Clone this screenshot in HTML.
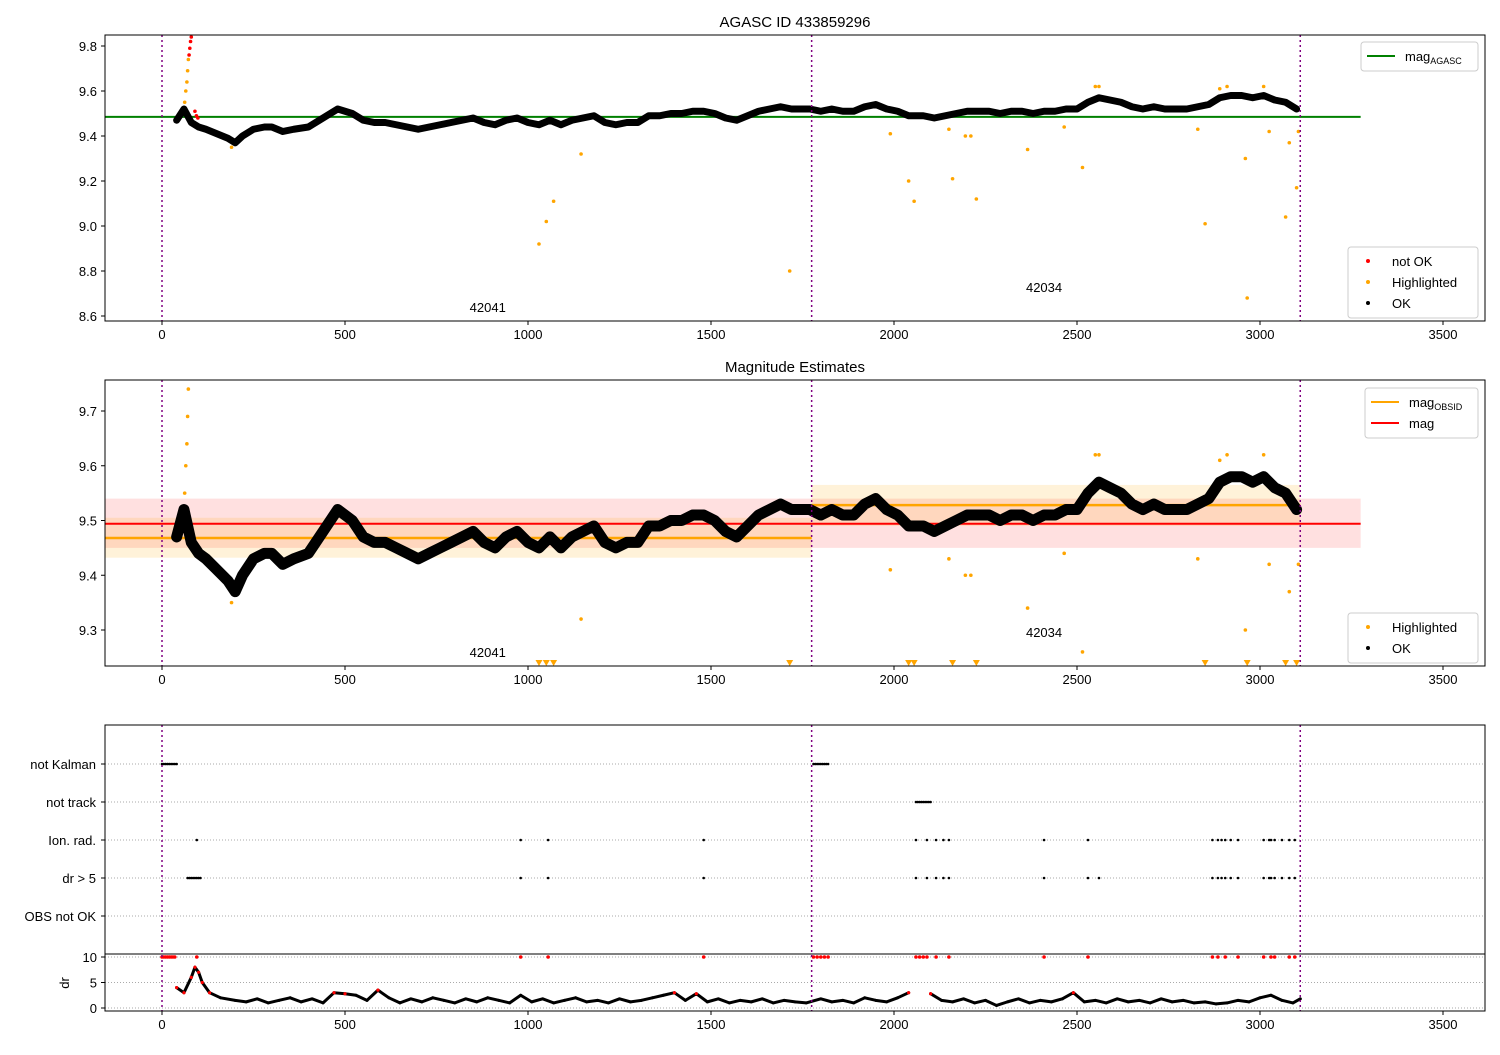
<!DOCTYPE html>
<html><head><meta charset="utf-8"><style>
body{margin:0;background:#fff;}
svg text{font-family:"Liberation Sans","DejaVu Sans",sans-serif;fill:#000;}
</style></head><body>
<svg id="chart" width="1500" height="1050" xmlns="http://www.w3.org/2000/svg"></svg>
<script>
// ---- data ----
const magTimes=[40,60,80,100,120,150,180,200,220,250,280,300,330,360,400,430,460,480,500,520,550,580,610,640,670,700,730,760,790,820,850,880,910,940,970,1000,1030,1060,1090,1120,1150,1180,1210,1240,1270,1300,1330,1360,1390,1420,1450,1480,1510,1540,1570,1600,1630,1660,1690,1720,1750,1770,1800,1830,1860,1890,1920,1950,1980,2010,2040,2080,2110,2140,2170,2200,2230,2260,2290,2320,2350,2380,2410,2440,2470,2500,2530,2560,2590,2620,2650,2680,2710,2740,2770,2800,2830,2860,2890,2920,2950,2980,3010,3040,3070,3100];
const magValues=[9.47,9.52,9.46,9.44,9.43,9.41,9.39,9.37,9.40,9.43,9.44,9.44,9.42,9.43,9.44,9.47,9.50,9.52,9.51,9.50,9.47,9.46,9.46,9.45,9.44,9.43,9.44,9.45,9.46,9.47,9.48,9.46,9.45,9.47,9.48,9.46,9.45,9.47,9.45,9.47,9.48,9.49,9.46,9.45,9.46,9.46,9.49,9.49,9.50,9.50,9.51,9.51,9.50,9.48,9.47,9.49,9.51,9.52,9.53,9.52,9.52,9.52,9.51,9.52,9.51,9.51,9.53,9.54,9.52,9.51,9.49,9.49,9.48,9.49,9.50,9.51,9.51,9.51,9.50,9.51,9.51,9.50,9.51,9.51,9.52,9.52,9.55,9.57,9.56,9.55,9.53,9.52,9.53,9.52,9.52,9.52,9.53,9.54,9.57,9.58,9.58,9.57,9.58,9.56,9.55,9.52];
const hlTimes=[62,65,68,70,72,190,1030,1050,1070,1145,1715,1990,2040,2055,2150,2160,2195,2210,2225,2365,2465,2515,2550,2560,2830,2850,2890,2910,2960,2965,3010,3025,3070,3080,3100,3105];
const hlValues=[9.55,9.60,9.64,9.69,9.74,9.35,8.92,9.02,9.11,9.32,8.80,9.41,9.20,9.11,9.43,9.21,9.40,9.40,9.12,9.34,9.44,9.26,9.62,9.62,9.43,9.01,9.61,9.62,9.30,8.68,9.62,9.42,9.04,9.37,9.17,9.42];
const badTimes=[74,76,78,80,90,94,98];
const badValues=[9.76,9.79,9.82,9.84,9.51,9.49,9.48];
const magAgasc=9.485, magMean=9.494, magMeanLo=9.45, magMeanHi=9.54;
const obsStarts=[0,1775], obsEnds=[1775,3110], obsMag=[9.468,9.528], obsLo=[9.432,9.49], obsHi=[9.505,9.565];
const obsIds=['42041','42034'], obsLabelT=[890,2410];
const flagNames=['not Kalman','not track','Ion. rad.','dr > 5','OBS not OK'];
const flagTimes=[
 [0,5,10,15,20,25,30,35,40,1780,1785,1790,1795,1800,1805,1810,1815,1820],
 [2060,2065,2070,2075,2080,2085,2090,2095,2100],
 [95,980,1055,1480,2060,2090,2115,2135,2150,2410,2530,2870,2885,2895,2905,2920,2940,3010,3025,3030,3040,3060,3080,3095],
 [70,75,80,85,90,95,100,105,980,1055,1480,2060,2090,2115,2135,2150,2410,2530,2560,2870,2885,2895,2905,2920,2940,3010,3025,3030,3040,3060,3080,3095],
 []];
const drTimes=[40,60,80,90,100,110,130,160,200,230,260,290,320,350,380,410,440,470,500,530,560,590,620,650,680,710,740,770,800,830,860,890,920,950,980,1010,1040,1070,1100,1130,1160,1190,1220,1250,1280,1310,1340,1370,1400,1430,1460,1490,1520,1550,1580,1610,1640,1670,1700,1730,1760,1800,1830,1860,1890,1920,1950,1980,2010,2040,2100,2130,2160,2190,2220,2250,2280,2310,2340,2370,2400,2430,2460,2490,2520,2550,2580,2610,2640,2670,2700,2730,2760,2790,2820,2850,2880,2910,2940,2970,3000,3030,3060,3090,3110];
const drValues=[4,3,6,8,7,5,3,2,1.5,1.2,1.8,1,1.5,2,1.2,1.8,1,3,2.8,2.5,1.5,3.5,2,1,1.8,1.2,2,1.5,1,1.8,1.2,2,1.5,1,2.5,1.2,1.8,1,1.5,2,1.2,1.5,1,1.8,1.2,1.5,2,2.5,3,1.5,2.8,1.2,1.8,1,1.5,1.2,1.8,1,1.5,1.2,1,1.8,1.2,1.5,1,2,1.5,1.2,2,3,2.8,1.5,1.2,1.8,1,1.5,0.5,1.2,1.8,1,1.5,1.2,1.8,3,1.2,1.5,1,1.8,1.2,1.5,1,1.8,1.2,1.5,1,1.2,0.8,1,1.5,1.2,2,2.5,1.5,1,1.8];
const drBadTimes=[0,5,10,15,20,25,30,35,95,980,1055,1480,1780,1790,1800,1810,1820,2060,2070,2080,2090,2115,2150,2410,2530,2870,2885,2905,2940,3010,3030,3040,3080,3095];
const xTicks=[0,500,1000,1500,2000,2500,3000,3500];
const y1Ticks=[8.6,8.8,9.0,9.2,9.4,9.6,9.8];
const y2Ticks=[9.3,9.4,9.5,9.6,9.7];
const drTicks=[0,5,10];

// ---- scales ----
const X=t=>162+t*0.366;
const Y1=v=>226-(v-9.0)*225;
const Y2=v=>520.5-(v-9.5)*547.5;
const Yf=i=>764+i*38;
const Yd=v=>1008-v*5.1;
const svg=document.getElementById('chart');
const NS='http://www.w3.org/2000/svg';
function mk(tag,attrs,parent){const e=document.createElementNS(NS,tag);for(const k in attrs)e.setAttribute(k,attrs[k]);(parent||svg).appendChild(e);return e;}
function txt(x,y,s,size,anchor,parent){const e=mk('text',{x:x,y:y,'font-size':size,'text-anchor':anchor||'middle'},parent);e.textContent=s;return e;}

function clip(id,y0,y1){const c=mk('clipPath',{id:id});mk('rect',{x:105,y:y0,width:1380,height:y1-y0},c);}
clip('c1',35,321);clip('c2',380,666);clip('c3',725,1011);

function xAxis(yb,g){xTicks.forEach(t=>{mk('line',{x1:X(t),x2:X(t),y1:yb,y2:yb+4,stroke:'#000'},g);
 const l=txt(X(t),yb+18,String(t),13,'middle',g);
 
 });}
function vlines(y0,y1,g){[0,1775,3110].forEach(t=>mk('line',{x1:X(t),x2:X(t),y1:y0,y2:y1,stroke:'#800080','stroke-width':1.5,'stroke-dasharray':'2,3'},g));}
function segments(times,vals,Yf2,g,color,w){let pts=[];const flush=()=>{if(pts.length>1)mk('polyline',{points:pts.join(' '),fill:'none',stroke:color,'stroke-width':w,'stroke-linejoin':'round','stroke-linecap':'round'},g);pts=[];};
 times.forEach((t,i)=>{if(i>0&&t-times[i-1]>45)flush();pts.push(X(t)+','+Yf2(vals[i]));});flush();}
function dots(times,vals,Yf2,g,color,r){times.forEach((t,i)=>{const c=mk('circle',{cx:X(t),cy:Yf2(vals[i]),r:r,fill:color},g);
 
 });}

// ---- panel 1 ----
const p1=mk('g',{'clip-path':'url(#c1)'});
mk('line',{x1:105,x2:X(3275),y1:Y1(magAgasc),y2:Y1(magAgasc),stroke:'#008000','stroke-width':2},p1);
segments(magTimes,magValues,Y1,p1,'#000',7);
dots(magTimes,magValues,Y1,p1,'#000',2);
dots(hlTimes,hlValues,Y1,p1,'#ffa500',1.8);
dots(badTimes,badValues,Y1,p1,'#ff0000',1.8);
vlines(35,321,p1);
obsIds.forEach((s,i)=>txt(X(obsLabelT[i]),i?292:312,s,13,'middle',p1));
const a1=mk('g',{});
mk('rect',{x:105,y:35,width:1380,height:286,fill:'none',stroke:'#000'},a1);
y1Ticks.forEach(v=>{mk('line',{x1:101,x2:105,y1:Y1(v),y2:Y1(v),stroke:'#000'},a1);txt(97,Y1(v)+5,v.toFixed(1),13,'end',a1);});
xAxis(321,a1);
txt(795,27,'AGASC ID 433859296',15,'middle',a1);

// ---- panel 2 ----
const p2=mk('g',{'clip-path':'url(#c2)'});
mk('rect',{x:105,y:Y2(magMeanHi),width:X(3275)-105,height:Y2(magMeanLo)-Y2(magMeanHi),fill:'#ff0000','fill-opacity':0.12},p2);
obsStarts.forEach((s,i)=>{const x0=i?X(s):105;mk('rect',{x:x0,y:Y2(obsHi[i]),width:X(obsEnds[i])-x0,height:Y2(obsLo[i])-Y2(obsHi[i]),fill:'#ffa500','fill-opacity':0.15},p2);
 mk('line',{x1:x0,x2:X(obsEnds[i]),y1:Y2(obsMag[i]),y2:Y2(obsMag[i]),stroke:'#ffa500','stroke-width':2.5},p2);});
mk('line',{x1:105,x2:X(3275),y1:Y2(magMean),y2:Y2(magMean),stroke:'#ff0000','stroke-width':2},p2);
segments(magTimes,magValues,Y2,p2,'#000',11);
dots(magTimes,magValues,Y2,p2,'#000',2);
hlTimes.forEach((t,i)=>{const v=hlValues[i];if(v>=9.235)mk('circle',{cx:X(t),cy:Y2(v),r:1.8,fill:'#ffa500'},p2);
 else mk('polygon',{points:`${X(t)-3.5},660 ${X(t)+3.5},660 ${X(t)},666`,fill:'#ffa500'},p2);});
vlines(380,666,p2);
obsIds.forEach((s,i)=>txt(X(obsLabelT[i]),i?637:657,s,13,'middle',p2));
const a2=mk('g',{});
mk('rect',{x:105,y:380,width:1380,height:286,fill:'none',stroke:'#000'},a2);
y2Ticks.forEach(v=>{mk('line',{x1:101,x2:105,y1:Y2(v),y2:Y2(v),stroke:'#000'},a2);txt(97,Y2(v)+5,v.toFixed(1),13,'end',a2);});
xAxis(666,a2);
txt(795,372,'Magnitude Estimates',15,'middle',a2);

// ---- panel 3 ----
const p3=mk('g',{'clip-path':'url(#c3)'});
flagNames.forEach((n,i)=>{mk('line',{x1:105,x2:1485,y1:Yf(i),y2:Yf(i),stroke:'#aaa','stroke-dasharray':'1,2'},p3);
 txt(96,Yf(i)+5,n,13,'end');
 flagTimes[i].forEach(t=>{const c=mk('circle',{cx:X(t),cy:Yf(i),r:1.3,fill:'#000'},p3);});});
[0,5,10].forEach(v=>mk('line',{x1:105,x2:1485,y1:Yd(v),y2:Yd(v),stroke:'#aaa','stroke-dasharray':'1,2'},p3));
segments(drTimes,drValues,Yd,p3,'#000',3);
dots(drTimes,drValues,Yd,p3,'#000',1.5);
dots(drTimes.filter((t,i)=>drValues[i]>2.7),drValues.filter(v=>v>2.7),Yd,p3,'#ff0000',1.6);
drBadTimes.forEach(t=>mk('circle',{cx:X(t),cy:Yd(10),r:1.8,fill:'#ff0000'},p3));
vlines(725,1011,p3);
const a3=mk('g',{});
mk('rect',{x:105,y:725,width:1380,height:286,fill:'none',stroke:'#000'},a3);
mk('line',{x1:105,x2:1485,y1:954,y2:954,stroke:'#000'},a3);
flagNames.forEach((n,i)=>mk('line',{x1:101,x2:105,y1:Yf(i),y2:Yf(i),stroke:'#000'},a3));
drTicks.forEach(v=>{mk('line',{x1:101,x2:105,y1:Yd(v),y2:Yd(v),stroke:'#000'},a3);txt(97,Yd(v)+5,String(v),13,'end',a3);});
const dl=txt(0,0,'dr',13,'middle',a3);dl.setAttribute('transform','translate(69,983) rotate(-90)');
xAxis(1011,a3);

// ---- legends ----
function legend(x,y,w,items,name){const g=mk('g',{});
 mk('rect',{x:x,y:y,width:w,height:items.length*21+8,rx:3,fill:'#fff','fill-opacity':0.85,stroke:'#ccc'},g);
 items.forEach((it,i)=>{const cy=y+14+i*21;
  if(it.line)mk('line',{x1:x+6,x2:x+34,y1:cy,y2:cy,stroke:it.c,'stroke-width':2},g);
  else mk('circle',{cx:x+20,cy:cy,r:2,fill:it.c},g);
  const t=mk('text',{x:x+44,y:cy+5,'font-size':13},g);t.textContent=it.t;
  if(it.sub){const s=mk('tspan',{'font-size':9,dy:3},t);s.textContent=it.sub;}});}
legend(1361,42,117,[{c:'#008000',line:1,t:'mag',sub:'AGASC'}],'legend-agasc');
legend(1348,247,130,[{c:'#ff0000',t:'not OK'},{c:'#ffa500',t:'Highlighted'},{c:'#000',t:'OK'}],'legend-status');
legend(1365,388,113,[{c:'#ffa500',line:1,t:'mag',sub:'OBSID'},{c:'#ff0000',line:1,t:'mag'}],'legend-magnitudes');
legend(1348,613,130,[{c:'#ffa500',t:'Highlighted'},{c:'#000',t:'OK'}],'legend-status-2');
</script>
</body></html>
